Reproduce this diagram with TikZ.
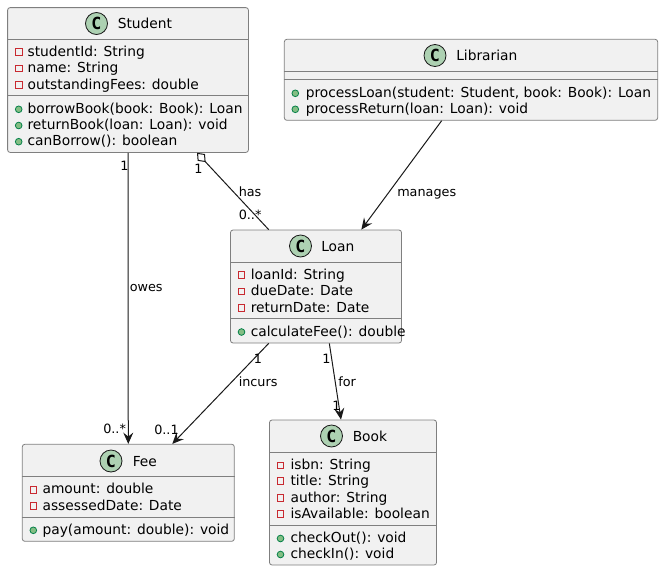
\documentclass[tikz,border=0pt]{standalone}
\usepackage{fontspec}
\setmainfont{DejaVu Sans}
\newfontfamily\iconfont{DejaVu Sans Mono}
\usetikzlibrary{arrows.meta,positioning}
\definecolor{boxfill}{HTML}{F1F1F1}
\definecolor{boxline}{HTML}{7F7F7F}
\definecolor{iconfill}{HTML}{ADD1B2}
\definecolor{privline}{HTML}{C82930}
\definecolor{pubfill}{HTML}{84BE84}
\definecolor{publine}{HTML}{038048}
\tikzset{
  classbox/.style={draw=boxline,fill=boxfill,rounded corners=1.9pt,line width=0.6pt,inner sep=0pt},
  icon/.style={circle,draw=black!90,fill=iconfill,line width=0.6pt,minimum size=16.5pt,inner sep=0pt,font=\iconfont\fontsize{12.5pt}{12pt}\selectfont\bfseries},
  title/.style={anchor=base west,inner sep=0pt,font=\fontsize{10.35pt}{12pt}\selectfont},
  memb/.style={anchor=base west,inner sep=0pt,font=\fontsize{10.35pt}{12pt}\selectfont},
  priv/.style={draw=privline,line width=0.6pt,minimum size=5pt,inner sep=0pt},
  pub/.style={circle,draw=publine,fill=pubfill,line width=0.6pt,minimum size=5pt,inner sep=0pt},
  lab/.style={anchor=base west,inner sep=0pt,font=\fontsize{9.6pt}{12pt}\selectfont},
  sep/.style={draw=boxline,line width=0.6pt},
  conn/.style={draw=black!90,line width=0.75pt},
  opentip/.style={-{Stealth[length=8.5pt,width=7.5pt,inset=3pt]}}
}
\begin{document}
\begin{tikzpicture}[x=0.75pt,y=-0.75pt]
\useasboundingbox (0,0) rectangle (663,571);
% Student
\node[classbox,minimum width=180.6pt,minimum height=108.6pt] (student) at (128,80) {};
\draw[sep] (student.west |- 0,39) -- (student.east |- 0,39);
\draw[sep] (student.west |- 0,95) -- (student.east |- 0,95);
\node[icon] (studenticon) at (96.5,23.5) {C};
\node[title] (studenttitle) at (117.5,28.5) {Student};
\node[priv] (sp1) at (18.7,52) {};
\node[priv] (sp2) at (18.7,68.5) {};
\node[priv] (sp3) at (18.7,85) {};
\node[memb] (sm1) at (27.3,56.5) {studentId: String};
\node[memb] (sm2) at (27.3,72.5) {name: String};
\node[memb] (sm3) at (27.3,89) {outstandingFees: double};
\node[pub] (sq1) at (18.7,109.3) {};
\node[pub] (sq2) at (18.7,125.5) {};
\node[pub] (sq3) at (18.7,141.7) {};
\node[memb] (sn1) at (27.3,113) {borrowBook(book: Book): Loan};
\node[memb] (sn2) at (27.3,129) {returnBook(loan: Loan): void};
\node[memb] (sn3) at (27.3,145.5) {canBorrow(): boolean};
% Librarian
\node[classbox,minimum width=280pt,minimum height=60.75pt] (librarian) at (471,79.8) {};
\draw[sep] (librarian.west |- 0,71.3) -- (librarian.east |- 0,71.3);
\draw[sep] (librarian.west |- 0,79.3) -- (librarian.east |- 0,79.3);
\node[icon] (librarianicon) at (435,55.5) {C};
\node[title] (librariantitle) at (456,60.5) {Librarian};
\node[pub] (lq1) at (295.3,93.3) {};
\node[pub] (lq2) at (295.3,109.3) {};
\node[memb] (ln1) at (305.5,97) {processLoan(student: Student, book: Book): Loan};
\node[memb] (ln2) at (305.5,113.3) {processReturn(loan: Loan): void};
% Loan
\node[classbox,minimum width=128.25pt,minimum height=84.75pt] (loan) at (316,286.5) {};
\draw[sep] (loan.west |- 0,262) -- (loan.east |- 0,262);
\draw[sep] (loan.west |- 0,318) -- (loan.east |- 0,318);
\node[icon] (loanicon) at (300.5,246) {C};
\node[title] (loantitle) at (321,251) {Loan};
\node[priv] (op1) at (241.5,275) {};
\node[priv] (op2) at (241.5,291.5) {};
\node[priv] (op3) at (241.5,308) {};
\node[memb] (om1) at (250.5,279) {loanId: String};
\node[memb] (om2) at (250.5,295.5) {dueDate: Date};
\node[memb] (om3) at (250.5,312) {returnDate: Date};
\node[pub] (oq1) at (241.5,332) {};
\node[memb] (on1) at (250.5,336) {calculateFee(): double};
% Fee
\node[classbox,minimum width=159pt,minimum height=72.75pt] (fee) at (128.3,492.8) {};
\draw[sep] (fee.west |- 0,476.7) -- (fee.east |- 0,476.7);
\draw[sep] (fee.west |- 0,517.3) -- (fee.east |- 0,517.3);
\node[icon] (feeicon) at (111,461) {C};
\node[title] (feetitle) at (132.5,466) {Fee};
\node[priv] (fp1) at (33.3,490) {};
\node[priv] (fp2) at (33.3,506) {};
\node[memb] (fm1) at (42.3,493.5) {amount: double};
\node[memb] (fm2) at (42.3,510) {assessedDate: Date};
\node[pub] (fq1) at (33.3,530.3) {};
\node[memb] (fn1) at (42.3,534) {pay(amount: double): void};
% Book
\node[classbox,minimum width=125.25pt,minimum height=108.75pt] (book) at (353,492.5) {};
\draw[sep] (book.west |- 0,452.3) -- (book.east |- 0,452.3);
\draw[sep] (book.west |- 0,525.7) -- (book.east |- 0,525.7);
\node[icon] (bookicon) at (331.5,436) {C};
\node[title] (booktitle) at (352.5,441) {Book};
\node[priv] (bp1) at (280.5,465.5) {};
\node[priv] (bp2) at (280.5,481) {};
\node[priv] (bp3) at (280.5,498) {};
\node[priv] (bp4) at (280.5,514) {};
\node[memb] (bm1) at (290.3,469.5) {isbn: String};
\node[memb] (bm2) at (290.3,485.3) {title: String};
\node[memb] (bm3) at (290.3,502) {author: String};
\node[memb] (bm4) at (290.3,518) {isAvailable: boolean};
\node[pub] (bq1) at (280.5,538.5) {};
\node[pub] (bq2) at (280.5,554.5) {};
\node[memb] (bn1) at (290.3,542) {checkOut(): void};
\node[memb] (bn2) at (290.3,558.3) {checkIn(): void};
% connectors
\draw[conn,opentip] (student) -- (fee);
\draw[conn,{Diamond[open,fill=white,length=9.5pt,width=7.5pt]}-] ([xshift=51.75pt]student.south) -- ([xshift=-35.5pt]loan.north);
\draw[conn,opentip] ([xshift=-22pt]librarian.south) -- ([xshift=34pt]loan.north);
\draw[conn,opentip] ([xshift=-35.5pt]loan.south) -- ([xshift=33pt]fee.north);
\draw[conn,opentip] ([xshift=10pt]loan.south) -- ([xshift=-9pt]book.north);
% labels
\node[lab] (owes) at (129.5,291) {owes};
\node[lab] (owesa) at (120,170) {1};
\node[lab] (owesb) at (103,433) {0..*};
\node[lab] (has) at (238.5,196) {has};
\node[lab] (hasa) at (194,173) {1};
\node[lab] (hasb) at (238.5,219) {0..*};
\node[lab] (manages) at (397,196) {manages};
\node[lab] (incurs) at (238.5,386) {incurs};
\node[lab] (incursa) at (253.5,363) {1};
\node[lab] (incursb) at (154,434) {0..1};
\node[lab] (for) at (338,386) {for};
\node[lab] (fora) at (322,363) {1};
\node[lab] (forb) at (332,410) {1};
\end{tikzpicture}
\end{document}
